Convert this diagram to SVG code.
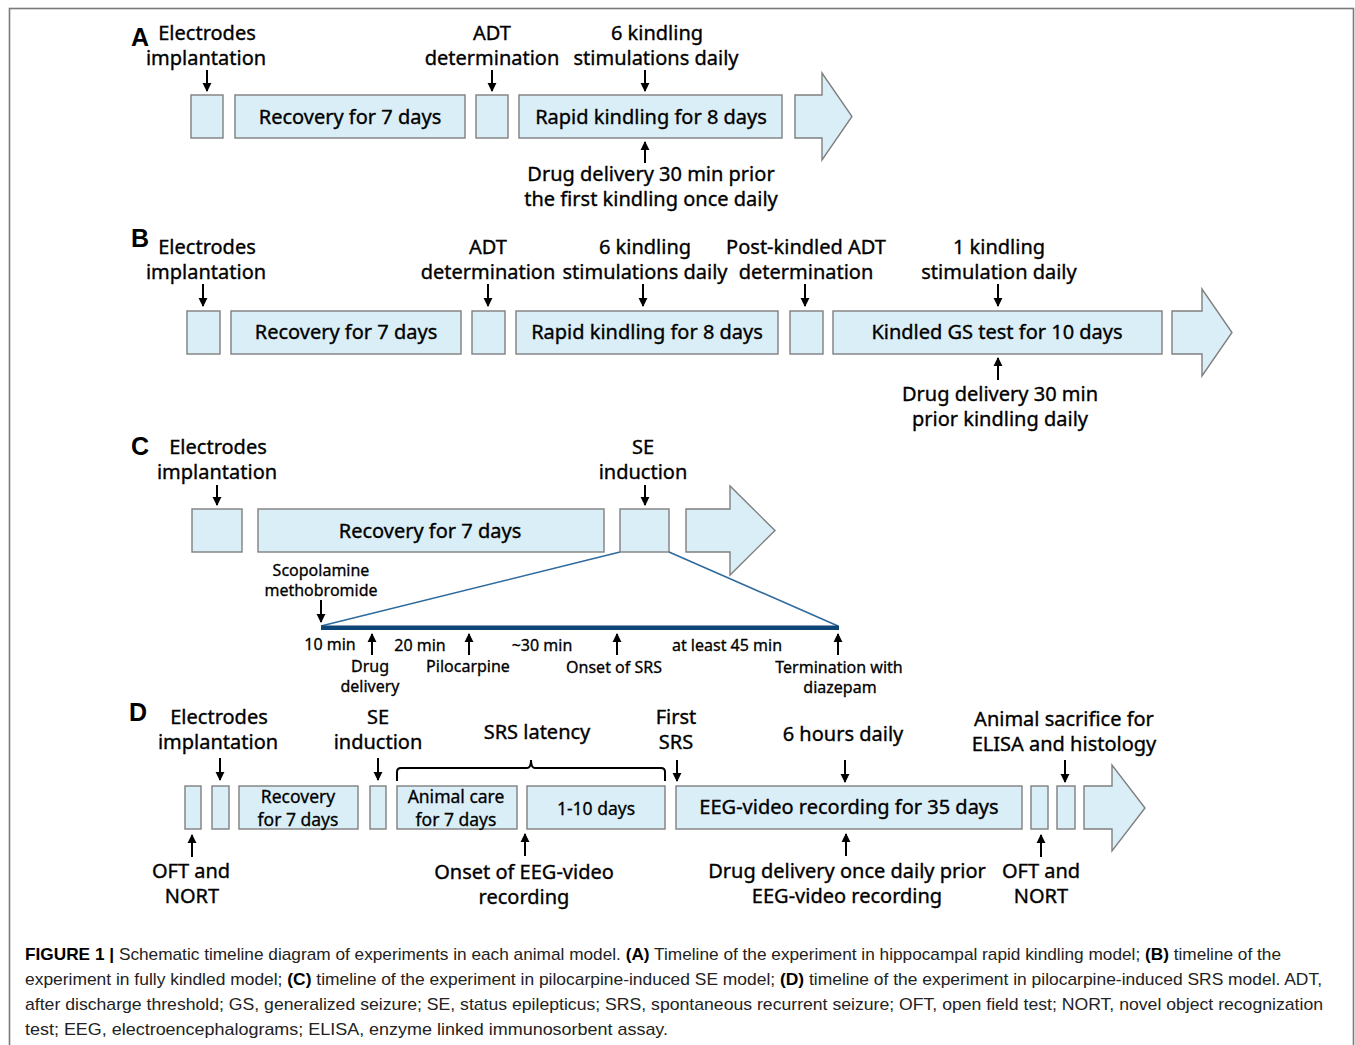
<svg xmlns="http://www.w3.org/2000/svg" width="1355" height="1045" viewBox="0 0 1355 1045">
<defs>
<marker id="ah" viewBox="0 0 10 10" refX="9" refY="5" markerWidth="9" markerHeight="10" markerUnits="userSpaceOnUse" orient="auto">
<path d="M0,0 L10,5 L0,10 z" fill="#000"/>
</marker>
<style>
.t{font-family:"Noto Sans","Open Sans","DejaVu Sans",sans-serif;font-size:20px;fill:#000;stroke:#000;stroke-width:0.35;text-anchor:middle}
.s{font-family:"Noto Sans","Open Sans","DejaVu Sans",sans-serif;font-size:16px;fill:#000;stroke:#000;stroke-width:0.3;text-anchor:middle}
.m{font-family:"Noto Sans","Open Sans","DejaVu Sans",sans-serif;font-size:17.5px;fill:#000;stroke:#000;stroke-width:0.3;text-anchor:middle}
.L{font-family:"Liberation Sans","Noto Sans",sans-serif;font-size:25px;font-weight:bold;fill:#000}
.b{fill:#daeef7;stroke:#7f7f7f;stroke-width:1.4}
.a{stroke:#000;stroke-width:2;fill:none;marker-end:url(#ah)}
.c{font-family:"Liberation Sans",Arial,sans-serif;font-size:17px;fill:#222}
.cb{font-weight:bold;fill:#000}
</style>
</defs>
<rect x="0" y="0" width="1355" height="1045" fill="#fff"/>
<rect x="9.5" y="8.5" width="1344" height="1050" fill="none" stroke="#7a7a7a" stroke-width="1.6"/>

<g id="panelA">
<text class="L" x="131" y="46">A</text>
<g id="A-labels">
<text class="t" x="207" y="40">Electrodes</text>
<text class="t" x="206" y="65">implantation</text>
<text class="t" x="492" y="40">ADT</text>
<text class="t" x="492" y="65">determination</text>
<text class="t" x="657" y="40">6 kindling</text>
<text class="t" x="656" y="65">stimulations daily</text>
<text class="t" x="651" y="181">Drug delivery 30 min prior</text>
<text class="t" x="651" y="206">the first kindling once daily</text>
</g>
<g id="A-box1"><rect class="b" x="191" y="95" width="32" height="43"/></g>
<g id="A-box2"><rect class="b" x="235" y="95" width="230" height="43"/><text class="t" x="350" y="124">Recovery for 7 days</text></g>
<g id="A-box3"><rect class="b" x="476" y="95" width="32" height="43"/></g>
<g id="A-box4"><rect class="b" x="519" y="95" width="263" height="43"/><text class="t" x="651" y="124">Rapid kindling for 8 days</text></g>
<g id="A-arrow"><polygon class="b" points="795,95 822,95 822,73 852,116.5 822,160 822,138 795,138"/></g>
</g>

<g id="panelB">
<text class="L" x="131" y="247">B</text>
<g id="B-labels">
<text class="t" x="207" y="254">Electrodes</text>
<text class="t" x="206" y="279">implantation</text>
<text class="t" x="488" y="254">ADT</text>
<text class="t" x="488" y="279">determination</text>
<text class="t" x="645" y="254">6 kindling</text>
<text class="t" x="645" y="279">stimulations daily</text>
<text class="t" x="806" y="254">Post-kindled ADT</text>
<text class="t" x="806" y="279">determination</text>
<text class="t" x="999" y="254">1 kindling</text>
<text class="t" x="999" y="279">stimulation daily</text>
<text class="t" x="1000" y="401">Drug delivery 30 min</text>
<text class="t" x="1000" y="426">prior kindling daily</text>
</g>
<g id="B-box1"><rect class="b" x="187" y="311" width="33" height="43"/></g>
<g id="B-box2"><rect class="b" x="231" y="311" width="230" height="43"/><text class="t" x="346" y="339">Recovery for 7 days</text></g>
<g id="B-box3"><rect class="b" x="472" y="311" width="33" height="43"/></g>
<g id="B-box4"><rect class="b" x="516" y="311" width="262" height="43"/><text class="t" x="647" y="339">Rapid kindling for 8 days</text></g>
<g id="B-box5"><rect class="b" x="790" y="311" width="33" height="43"/></g>
<g id="B-box6"><rect class="b" x="833" y="311" width="329" height="43"/><text class="t" x="997" y="339">Kindled GS test for 10 days</text></g>
<g id="B-arrow"><polygon class="b" points="1172,311 1202,311 1202,289 1232,332.5 1202,376 1202,354 1172,354"/></g>
</g>

<g id="panelC">
<text class="L" x="131" y="455">C</text>
<g id="C-labels">
<text class="t" x="218" y="454">Electrodes</text>
<text class="t" x="217" y="479">implantation</text>
<text class="t" x="643" y="454">SE</text>
<text class="t" x="643" y="479">induction</text>
<text class="s" x="321" y="576">Scopolamine</text>
<text class="s" x="321" y="596">methobromide</text>
<text class="s" x="330" y="650">10 min</text>
<text class="s" x="420" y="651">20 min</text>
<text class="s" x="542" y="651">~30 min</text>
<text class="s" x="727" y="651">at least 45 min</text>
<text class="s" x="370" y="672">Drug</text>
<text class="s" x="370" y="692">delivery</text>
<text class="s" x="468" y="672">Pilocarpine</text>
<text class="s" x="614" y="673">Onset of SRS</text>
<text class="s" x="839" y="673">Termination with</text>
<text class="s" x="840" y="693">diazepam</text>
</g>
<g id="C-box1"><rect class="b" x="192" y="509" width="50" height="43"/></g>
<g id="C-box2"><rect class="b" x="258" y="509" width="346" height="43"/><text class="t" x="430" y="538">Recovery for 7 days</text></g>
<g id="C-box3"><rect class="b" x="620" y="509" width="49" height="43"/></g>
<g id="C-arrow"><polygon class="b" points="686,509 730,509 730,486 775,530.5 730,575 730,552 686,552"/></g>
<g id="C-expansion">
<line x1="620" y1="552" x2="321" y2="626" stroke="#2e6a9c" stroke-width="1.6"/>
<line x1="669" y1="552" x2="838" y2="626" stroke="#2e6a9c" stroke-width="1.6"/>
<rect x="321" y="625.5" width="518" height="4.5" fill="#0d4576"/>
</g>
</g>

<g id="panelD">
<text class="L" x="129" y="721">D</text>
<g id="D-labels">
<text class="t" x="219" y="724">Electrodes</text>
<text class="t" x="218" y="749">implantation</text>
<text class="t" x="378" y="724">SE</text>
<text class="t" x="378" y="749">induction</text>
<text class="t" x="537" y="739">SRS latency</text>
<text class="t" x="676" y="724">First</text>
<text class="t" x="676" y="749">SRS</text>
<text class="t" x="843" y="741">6 hours daily</text>
<text class="t" x="1064" y="726">Animal sacrifice for</text>
<text class="t" x="1064" y="751">ELISA and histology</text>
<text class="t" x="191" y="878">OFT and</text>
<text class="t" x="192" y="903">NORT</text>
<text class="t" x="524" y="879">Onset of EEG-video</text>
<text class="t" x="524" y="904">recording</text>
<text class="t" x="847" y="878">Drug delivery once daily prior</text>
<text class="t" x="847" y="903">EEG-video recording</text>
<text class="t" x="1041" y="878">OFT and</text>
<text class="t" x="1041" y="903">NORT</text>
</g>
<g id="D-box1"><rect class="b" x="185" y="786" width="16" height="43"/></g>
<g id="D-box2"><rect class="b" x="212" y="786" width="17" height="43"/></g>
<g id="D-box3"><rect class="b" x="239" y="786" width="119" height="43"/><text class="m" x="298" y="803">Recovery</text><text class="m" x="298" y="826">for 7 days</text></g>
<g id="D-box4"><rect class="b" x="370" y="786" width="16" height="43"/></g>
<g id="D-box5"><rect class="b" x="397" y="786" width="120" height="43"/><text class="m" x="456" y="803">Animal care</text><text class="m" x="456" y="826">for 7 days</text></g>
<g id="D-box6"><rect class="b" x="527" y="786" width="138" height="43"/><text class="m" x="596" y="815">1-10 days</text></g>
<g id="D-box7"><rect class="b" x="676" y="786" width="346" height="43"/><text class="t" x="849" y="814">EEG-video recording for 35 days</text></g>
<g id="D-box8"><rect class="b" x="1031" y="786" width="17" height="43"/></g>
<g id="D-box9"><rect class="b" x="1057" y="786" width="18" height="43"/></g>
<g id="D-arrow"><polygon class="b" points="1084,786 1112,786 1112,765 1145,808 1112,851 1112,829 1084,829"/></g>
<g id="D-brace"><path d="M397,781 L397,772 Q397,768 401,768 L527,768 Q531,768 531,760 Q531,768 535,768 L661,768 Q665,768 665,772 L665,781" fill="none" stroke="#000" stroke-width="2"/></g>
</g>

<g id="connectors">
<line class="a" x1="207" y1="70" x2="207" y2="91"/>
<line class="a" x1="492" y1="70" x2="492" y2="91"/>
<line class="a" x1="645" y1="70" x2="645" y2="91"/>
<line class="a" x1="645" y1="163" x2="645" y2="142"/>

<line class="a" x1="203" y1="284" x2="203" y2="306"/>
<line class="a" x1="488" y1="284" x2="488" y2="306"/>
<line class="a" x1="643" y1="284" x2="643" y2="306"/>
<line class="a" x1="805" y1="284" x2="805" y2="306"/>
<line class="a" x1="998" y1="284" x2="998" y2="306"/>
<line class="a" x1="998" y1="380" x2="998" y2="358"/>

<line class="a" x1="217" y1="485" x2="217" y2="505"/>
<line class="a" x1="645" y1="485" x2="645" y2="505"/>
<line class="a" x1="321" y1="600" x2="321" y2="622"/>
<line class="a" x1="372" y1="655" x2="372" y2="634"/>
<line class="a" x1="469" y1="655" x2="469" y2="634"/>
<line class="a" x1="617" y1="655" x2="617" y2="634"/>
<line class="a" x1="838" y1="655" x2="838" y2="634"/>

<line class="a" x1="220" y1="758" x2="220" y2="780"/>
<line class="a" x1="378" y1="758" x2="378" y2="780"/>
<line class="a" x1="677" y1="760" x2="677" y2="781"/>
<line class="a" x1="845" y1="760" x2="845" y2="782"/>
<line class="a" x1="1065" y1="760" x2="1065" y2="782"/>
<line class="a" x1="192" y1="857" x2="192" y2="835"/>
<line class="a" x1="525" y1="856" x2="525" y2="834"/>
<line class="a" x1="846" y1="856" x2="846" y2="834"/>
<line class="a" x1="1041" y1="857" x2="1041" y2="835"/>
</g>

<g id="caption">
<text class="c" x="25" y="960" textLength="1256" lengthAdjust="spacingAndGlyphs"><tspan class="cb">FIGURE 1 | </tspan>Schematic timeline diagram of experiments in each animal model. <tspan class="cb">(A)</tspan> Timeline of the experiment in hippocampal rapid kindling model; <tspan class="cb">(B)</tspan> timeline of the</text>
<text class="c" x="25" y="985" textLength="1297" lengthAdjust="spacingAndGlyphs">experiment in fully kindled model; <tspan class="cb">(C)</tspan> timeline of the experiment in pilocarpine-induced SE model; <tspan class="cb">(D)</tspan> timeline of the experiment in pilocarpine-induced SRS model. ADT,</text>
<text class="c" x="25" y="1010" textLength="1298" lengthAdjust="spacingAndGlyphs">after discharge threshold; GS, generalized seizure; SE, status epilepticus; SRS, spontaneous recurrent seizure; OFT, open field test; NORT, novel object recognization</text>
<text class="c" x="25" y="1035" textLength="643" lengthAdjust="spacingAndGlyphs">test; EEG, electroencephalograms; ELISA, enzyme linked immunosorbent assay.</text>
</g>
</svg>
